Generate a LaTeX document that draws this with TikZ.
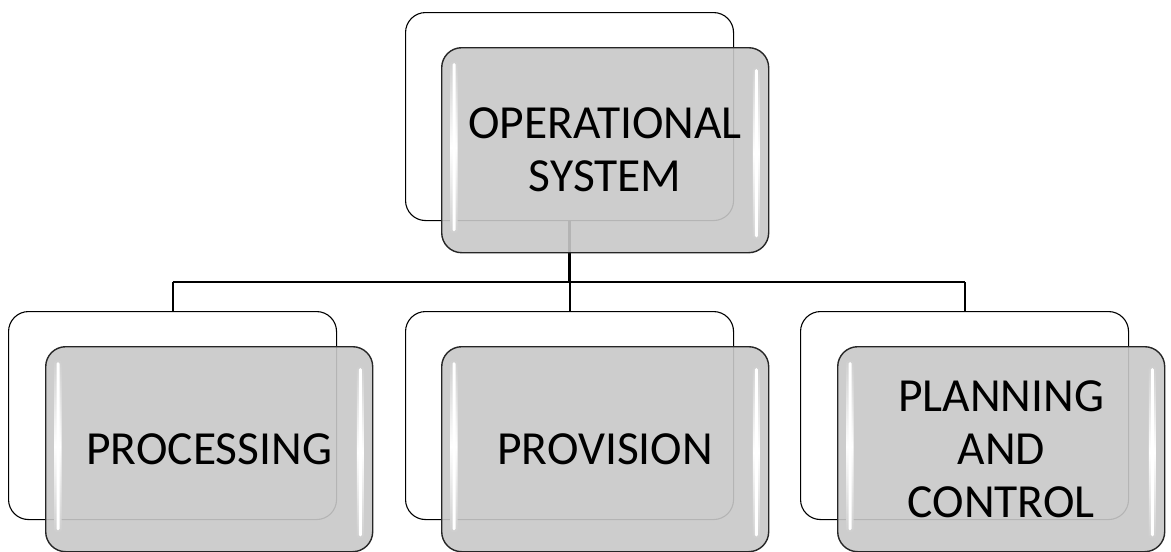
\documentclass[tikz,border=0pt]{standalone}
\usepackage{fontspec}
\setmainfont{Carlito}
\usetikzlibrary{calc}
\definecolor{boxfill}{RGB}{200,200,200}
\definecolor{barfill}{RGB}{206,206,206}
\tikzset{
  backbox/.style={draw=black, line width=1.1pt, rounded corners=20pt, fill=white,
    minimum width=328pt, minimum height=208pt, inner sep=0pt, anchor=north west},
  frontbox/.style={draw=black!85, line width=1.4pt, rounded corners=20pt,
    fill=boxfill, fill opacity=0.9, text opacity=1,
    minimum width=327pt, minimum height=205pt, inner sep=0pt, anchor=north west,
    align=center, font=\fontsize{47.5}{53}\selectfont},
  wire/.style={draw=black, line width=2pt},
  gloss/.style={rounded corners=2.5pt, left color=barfill, right color=barfill,
    middle color=white, shading angle=0},
  glosscore/.style={fill=white, rounded corners=1.5pt},
}
\newcommand\glossbars[1]{%
  \shade[gloss] ($(#1.north west)+(9.5,14)$) rectangle ($(#1.south west)+(16.5,-20)$);
  \fill[glosscore] ($(#1.north west)+(11.5,16)$) rectangle ($(#1.south west)+(14.5,-22)$);
  \shade[gloss] ($(#1.north east)+(-16.5,20)$) rectangle ($(#1.south east)+(-9.5,-14)$);
  \fill[glosscore] ($(#1.north east)+(-14.5,22)$) rectangle ($(#1.south east)+(-11.5,-16)$);
}
\begin{document}
\begin{tikzpicture}[x=1pt,y=-1pt]
\useasboundingbox (0,0) rectangle (1171,552);

% shadow frames behind each box
\node[backbox] (b0) at (405,12) {};
\node[backbox] (b1) at (8,311) {};
\node[backbox] (b2) at (405,311) {};
\node[backbox] (b3) at (800,311) {};

% tree connectors
\coordinate (bus) at (0,282);
\draw[wire, line width=2.6pt] (b0.south) -- (b0.south |- bus);
\draw[wire] (b1.north |- bus) -- (b3.north |- bus);
\draw[wire] (b1.north |- bus) -- (b1.north);
\draw[wire] (b2.north |- bus) -- (b2.north);
\draw[wire] (b3.north |- bus) -- (b3.north);

% front boxes with labels
\node[frontbox] (f0) at (441,47) {OPERATIONAL\\SYSTEM};
\node[frontbox] (f1) at (45,346) {PROCESSING};
\node[frontbox] (f2) at (441,346) {PROVISION};
\node[frontbox] (f3) at (837,346) {PLANNING\\AND\\CONTROL};

\glossbars{f0}
\glossbars{f1}
\glossbars{f2}
\glossbars{f3}
\end{tikzpicture}
\end{document}
